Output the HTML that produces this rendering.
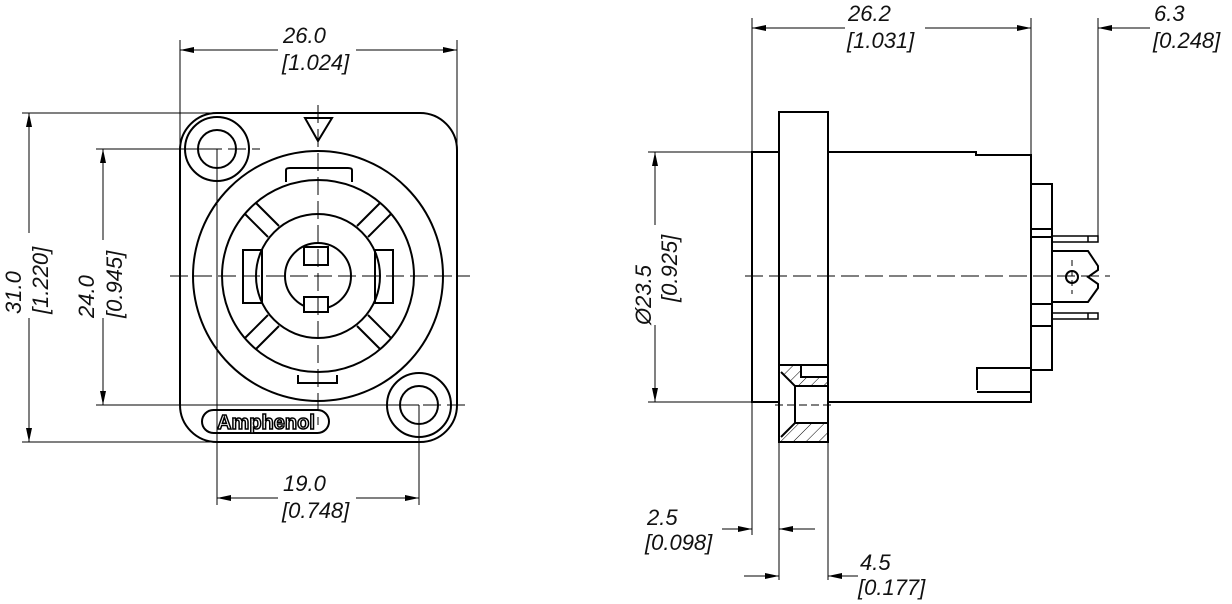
<!DOCTYPE html>
<html><head><meta charset="utf-8"><style>
html,body{margin:0;padding:0;background:#fff;}
svg{display:block;}
text{font-family:"Liberation Sans",sans-serif;font-style:italic;font-size:22px;fill:#111;}
</style></head><body>
<svg width="1232" height="604" viewBox="0 0 1232 604" xmlns="http://www.w3.org/2000/svg">
<defs>
<marker id="a" viewBox="0 0 14 6" refX="14" refY="3" markerWidth="14" markerHeight="6" orient="auto-start-reverse" markerUnits="userSpaceOnUse"><path d="M0,0 L14,3 L0,6 z" fill="#000"/></marker>
<pattern id="h" width="9" height="9" patternUnits="userSpaceOnUse" patternTransform="rotate(45)"><line x1="0" y1="0" x2="0" y2="9" stroke="#000" stroke-width="1"/></pattern>
</defs>

<!-- ===== FRONT VIEW ===== -->
<g fill="none" stroke="#000" stroke-width="2">
<path d="M217,113 H420 A37,37 0 0 1 457,150 V405 A37,37 0 0 1 420,442 H217 A37,37 0 0 1 180,405 V150 A37,37 0 0 1 217,113 Z"/>
<circle cx="217" cy="149" r="32"/><circle cx="217" cy="149" r="19"/>
<circle cx="419" cy="405" r="32"/><circle cx="419" cy="405" r="19"/>
<circle cx="318" cy="276" r="125"/>
<circle cx="318" cy="276" r="96"/>
<circle cx="318" cy="276" r="62"/>
<path d="M305,118 H332 L318,141 Z"/>
<path d="M286,182 V170 Q286,168 290,168 H348 Q352,168 352,170 V182"/>
<path d="M298,375 V383 H337 V375"/>
<rect x="243" y="250" width="19" height="53"/>
<rect x="375" y="250" width="18" height="53"/>
<circle cx="318" cy="276" r="33"/>
<rect x="304" y="247" width="24" height="18" fill="#fff"/>
<rect x="304" y="297" width="24" height="15" fill="#fff"/>
<!-- spokes -->
<g transform="translate(318 276)">
<g id="sp"><line x1="39" y1="-50" x2="62" y2="-73"/><line x1="50" y1="-39" x2="73" y2="-62"/></g>
<use href="#sp" transform="rotate(90)"/><use href="#sp" transform="rotate(180)"/><use href="#sp" transform="rotate(270)"/>
</g>
<rect x="202" y="410" width="127" height="23" rx="11.5"/>
</g>
<text x="266" y="429" style="font-style:normal;font-weight:bold;font-size:20px;fill:#fff;stroke:#000;stroke-width:1.5px" text-anchor="middle">Amphenol</text>

<!-- centerlines -->
<g stroke="#000" stroke-width="1" fill="none" stroke-dasharray="18,6">
<line x1="170" y1="276" x2="470" y2="276"/>
<line x1="318" y1="105" x2="318" y2="425"/>
<line x1="180" y1="149" x2="260" y2="149"/>
<line x1="375" y1="405" x2="470" y2="405"/>
</g>

<!-- front dims -->
<g stroke="#000" stroke-width="1" fill="none">
<line x1="180" y1="40" x2="180" y2="150"/><line x1="457" y1="40" x2="457" y2="150"/>
<line x1="180" y1="50" x2="278" y2="50" marker-start="url(#a)"/><line x1="356" y1="50" x2="457" y2="50" marker-end="url(#a)"/>
<line x1="22" y1="113" x2="217" y2="113"/><line x1="22" y1="442" x2="217" y2="442"/>
<line x1="29" y1="113" x2="29" y2="233" marker-start="url(#a)"/><line x1="29" y1="318" x2="29" y2="442" marker-end="url(#a)"/>
<line x1="96" y1="149" x2="217" y2="149"/><line x1="96" y1="405" x2="419" y2="405"/>
<line x1="103" y1="149" x2="103" y2="240" marker-start="url(#a)"/><line x1="103" y1="318" x2="103" y2="405" marker-end="url(#a)"/>
<line x1="217" y1="149" x2="217" y2="505"/><line x1="419" y1="405" x2="419" y2="505"/>
<line x1="217" y1="498" x2="278" y2="498" marker-start="url(#a)"/><line x1="356" y1="498" x2="419" y2="498" marker-end="url(#a)"/>
</g>
<text x="283" y="43">26.0</text><text x="282" y="70">[1.024]</text>
<text x="283" y="491">19.0</text><text x="282" y="518">[0.748]</text>
<text transform="translate(21 314) rotate(-90)">31.0</text>
<text transform="translate(48 314) rotate(-90)">[1.220]</text>
<text transform="translate(94 318) rotate(-90)">24.0</text>
<text transform="translate(122 318) rotate(-90)">[0.945]</text>

<!-- ===== SIDE VIEW ===== -->
<g fill="none" stroke="#000" stroke-width="2">
<rect x="752" y="152" width="27" height="250"/>
<rect x="779" y="112" width="49" height="330"/>
<path d="M828,152 H976 V155 H1031 V402 H828"/>
<path d="M977,390 V368 H1031 M977,392 H1031"/>
<rect x="1031" y="184" width="21" height="186"/>
<path d="M1031,229 H1052 M1031,237 H1052 M1031,304 H1052 M1031,326 H1052"/>
<rect x="1052" y="236" width="46" height="6" stroke-width="1.5"/><line x1="1088" y1="236" x2="1088" y2="242" stroke-width="1.5"/>
<rect x="1052" y="313" width="46" height="6" stroke-width="1.5"/><line x1="1088" y1="313" x2="1088" y2="319" stroke-width="1.5"/>
<path d="M1052,251 H1088 L1098,266 V270 L1088,277 L1098,284 V288 L1088,302 H1052"/>
<circle cx="1072" cy="277" r="6"/>
<!-- section -->
<path d="M779,365 H828 M801,365 V377 H828 M781,372 L795,386 V423 L781,437 M795,386 H828 M795,423 H828"/>
</g>
<path d="M781,365 H801 V377 H828 V386 H795 L781,372 Z" fill="url(#h)"/>
<path d="M781,437 L795,423 H828 V441 H781 Z" fill="url(#h)"/>
<g stroke="#000" stroke-width="1" fill="none" stroke-dasharray="18,6">
<line x1="745" y1="276" x2="1110" y2="276"/>
<line x1="775" y1="405" x2="835" y2="405" stroke-dasharray="8,4"/>
<line x1="1072" y1="260" x2="1072" y2="294" stroke-dasharray="6,4"/>
</g>
<g stroke="#000" stroke-width="1" fill="none">
<line x1="752" y1="18" x2="752" y2="535"/><line x1="1031" y1="18" x2="1031" y2="155"/>
<line x1="752" y1="28" x2="845" y2="28" marker-start="url(#a)"/><line x1="925" y1="28" x2="1031" y2="28" marker-end="url(#a)"/>
<line x1="1098" y1="18" x2="1098" y2="236"/>
<line x1="1098" y1="28" x2="1150" y2="28" marker-start="url(#a)"/>
<line x1="648" y1="152" x2="752" y2="152"/><line x1="648" y1="402" x2="752" y2="402"/>
<line x1="655" y1="152" x2="655" y2="225" marker-start="url(#a)"/><line x1="655" y1="325" x2="655" y2="402" marker-end="url(#a)"/>
<line x1="779" y1="442" x2="779" y2="580"/><line x1="828" y1="442" x2="828" y2="580"/>
<line x1="722" y1="529" x2="752" y2="529" marker-end="url(#a)"/>
<line x1="815" y1="529" x2="779" y2="529" marker-end="url(#a)"/>
<line x1="744" y1="576" x2="779" y2="576" marker-end="url(#a)"/>
<line x1="858" y1="576" x2="828" y2="576" marker-end="url(#a)"/>
</g>
<text x="848" y="21">26.2</text><text x="847" y="48">[1.031]</text>
<text x="1154" y="21">6.3</text><text x="1153" y="48">[0.248]</text>
<text transform="translate(651 325) rotate(-90)">Ø23.5</text>
<text transform="translate(677 302) rotate(-90)">[0.925]</text>
<text x="647" y="525">2.5</text><text x="645" y="550">[0.098]</text>
<text x="860" y="570">4.5</text><text x="858" y="595">[0.177]</text>
</svg>
</body></html>
